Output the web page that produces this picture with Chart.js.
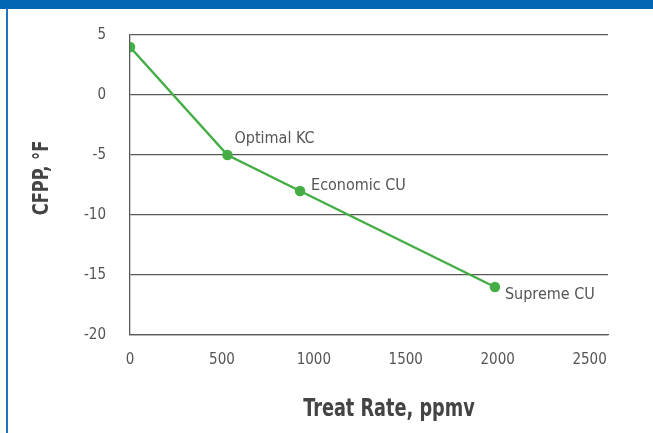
<!DOCTYPE html>
<html>
<head>
<meta charset="utf-8">
<script src="https://cdn.jsdelivr.net/npm/chart.js@4"></script>
<style>
    html, body { margin: 0; padding: 0; background: #fff; }
    #wrap { position: relative; width: 653px; height: 433px; overflow: hidden; }
    #topbar { position: absolute; left: 0; top: 0; width: 653px; height: 9px; background: #0066b3; }
    #sidebar { position: absolute; left: 6px; top: 9px; width: 2px; height: 424px; background: #1f74c0; }
    #chart { position: absolute; left: 0; top: 0; }
</style>
</head>
<body>
<div id="wrap">
    <canvas id="chart" width="653" height="433"></canvas>
    <div id="topbar"></div>
    <div id="sidebar"></div>
</div>
<script>
(function () {
    "use strict";

    // Data
    const treatRate = [0, 530, 925, 1985];
    const cfpp = [4, -5, -8, -16];
    const pointLabels = ["", "Optimal KC", "Economic CU", "Supreme CU"];
    const xTicks = [0, 500, 1000, 1500, 2000, 2500];
    const yTicks = [5, 0, -5, -10, -15, -20];

    const FONT = "'Liberation Sans Narrow', 'DejaVu Sans Condensed', 'Roboto', sans-serif";
    const textColor = "#555555";
    const lineColor = "#5a5a5a";
    const green = "#45ad45";

    // label offsets from their point, in px
    const labelOffsets = [null, [7, -16], [11, -5], [10, 8]];

    const pointLabelPlugin = {
        id: "pointLabels",
        afterDatasetsDraw(chart) {
            const ctx = chart.ctx;
            const meta = chart.getDatasetMeta(0);
            ctx.save();
            ctx.font = "16px " + FONT;
            ctx.fillStyle = textColor;
            ctx.textAlign = "left";
            ctx.textBaseline = "middle";
            meta.data.forEach((pt, i) => {
                if (!pointLabels[i]) return;
                const off = labelOffsets[i];
                ctx.fillText(pointLabels[i], pt.x + off[0], pt.y + off[1]);
            });
            ctx.restore();
        },
    };

    // axis titles, squeezed a bit to look like the condensed face in the original
    const axisTitlePlugin = {
        id: "axisTitles",
        afterDraw(chart) {
            const ctx = chart.ctx;
            const area = chart.chartArea;
            ctx.save();
            ctx.fillStyle = "#444444";
            ctx.textAlign = "center";
            ctx.textBaseline = "middle";
            ctx.font = "bold 24px " + FONT;
            ctx.translate((area.left + area.right) / 2 + 20, area.bottom + 75);
            ctx.scale(0.82, 1);
            ctx.fillText("Treat Rate, ppmv", 0, 0);
            ctx.restore();

            ctx.save();
            ctx.fillStyle = "#444444";
            ctx.textAlign = "center";
            ctx.textBaseline = "middle";
            ctx.font = "bold 22px " + FONT;
            ctx.translate(42, (area.top + area.bottom) / 2 - 7);
            ctx.rotate(-Math.PI / 2);
            ctx.scale(0.82, 1);
            ctx.fillText("CFPP, \u00b0F", 0, 0);
            ctx.restore();
        },
    };

    const ctx = document.getElementById("chart").getContext("2d");

    new Chart(ctx, {
        type: "scatter",
        data: {
            datasets: [
                {
                    data: treatRate.map((x, i) => ({ x: x, y: cfpp[i] })),
                    showLine: true,
                    borderColor: green,
                    backgroundColor: green,
                    borderWidth: 2.5,
                    pointRadius: 4,
                    pointHoverRadius: 4,
                    tension: 0,
                },
            ],
        },
        options: {
            responsive: false,
            animation: false,
            events: [],
            layout: {
                padding: { left: 8, top: 35, right: 45, bottom: 0 },
            },
            plugins: {
                legend: { display: false },
                tooltip: { enabled: false },
            },
            scales: {
                x: {
                    type: "linear",
                    min: 0,
                    max: 2600,
                    afterBuildTicks(scale) {
                        scale.ticks = xTicks.map((v) => ({ value: v }));
                    },
                    afterFit(scale) {
                        scale.height = 98;
                    },
                    ticks: {
                        color: textColor,
                        font: { family: FONT, size: 15 },
                        padding: 16,
                        maxRotation: 0,
                        callback: (v) => String(v),
                    },
                    grid: {
                        display: false,
                        drawTicks: false,
                    },
                    border: {
                        display: true,
                        color: lineColor,
                        width: 1.3,
                    },
                },
                y: {
                    min: -20,
                    max: 5,
                    afterBuildTicks(scale) {
                        scale.ticks = yTicks.map((v) => ({ value: v }));
                    },
                    afterFit(scale) {
                        scale.width = 122;
                    },
                    ticks: {
                        color: textColor,
                        font: { family: FONT, size: 15 },
                        padding: 24,
                        callback: (v) => String(v),
                    },
                    grid: {
                        color: lineColor,
                        lineWidth: 1.3,
                        drawTicks: false,
                    },
                    border: {
                        display: true,
                        color: lineColor,
                        width: 1.3,
                    },
                },
            },
        },
        plugins: [pointLabelPlugin, axisTitlePlugin],
    });
})();
</script>
</body>
</html>
